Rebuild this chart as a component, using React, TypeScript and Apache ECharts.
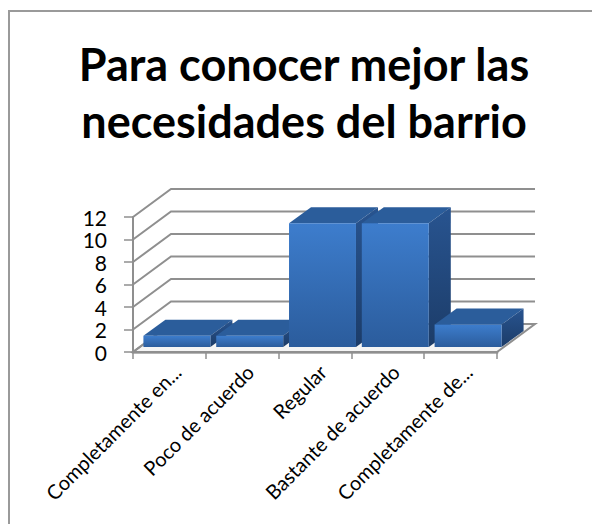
import React, { useEffect, useRef } from "react";
import * as echarts from "echarts";

const title = "Para conocer mejor las\nnecesidades del barrio";
const categories = ["Completamente en...", "Poco de acuerdo", "Regular", "Bastante de acuerdo", "Completamente de..."];
const values = [1, 1, 11, 11, 2];
const yTicks = [0, 2, 4, 6, 8, 10, 12];

const DX = 38;
const DY = -28;
const BAR_DX = 22;
const BAR_DY = -16;
const WALL = "#8f8f8f";

const frontFill = new echarts.graphic.LinearGradient(0, 0, 0, 1, [
  { offset: 0, color: "#3d7dcd" },
  { offset: 1, color: "#2b5c9c" },
]);
const sideFill = new echarts.graphic.LinearGradient(0, 0, 0, 1, [
  { offset: 0, color: "#285490" },
  { offset: 1, color: "#1c3c68" },
]);

export default function App() {
  const ref = useRef<HTMLDivElement>(null);
  useEffect(() => {
    const chart = echarts.init(ref.current!, null, { renderer: "svg" });
    chart.setOption({
      animation: false,
      backgroundColor: "#fff",
      textStyle: { fontFamily: "Lato" },
      title: {
        text: title,
        left: 299,
        top: 30,
        textAlign: "center",
        textStyle: { fontFamily: "Lato", fontSize: 45, fontWeight: "bold", color: "#000", lineHeight: 57 },
      },
      grid: { left: 133, right: 95, top: 217, bottom: 172, containLabel: false },
      xAxis: {
        type: "category",
        data: categories,
        axisLine: { show: true, lineStyle: { color: "#b5b5b5", width: 3 } },
        axisTick: { show: true, alignWithLabel: false, length: 7, lineStyle: { color: WALL, width: 1.5 } },
        axisLabel: {
          interval: 0,
          rotate: 45,
          margin: 24,
          padding: [0, -11, 0, 0],
          fontFamily: "Lato",
          fontSize: 20,
          color: "#000",
          hideOverlap: false,
        },
      },
      yAxis: {
        type: "value",
        min: 0,
        max: 12,
        interval: 2,
        axisLine: { show: true, lineStyle: { color: WALL, width: 2 } },
        axisTick: { show: true, length: 9, lineStyle: { color: WALL, width: 1.5 } },
        axisLabel: { margin: 26, fontFamily: "Lato", fontSize: 21, lineHeight: 20, color: "#000" },
        splitLine: { show: false },
      },
      series: [
        {
          type: "custom",
          silent: true,
          z: 1,
          data: [[0, 0]],
          encode: { x: 0, y: 1 },
          renderItem: (params: any, api: any) => {
            const c = params.coordSys;
            const y0 = api.coord([0, 0])[1];
            const l = c.x;
            const r = c.x + c.width;
            return {
              type: "polygon",
              shape: { points: [[l, y0], [r, y0], [r + DX, y0 + DY], [l + DX, y0 + DY]] },
              style: { fill: "#f4f4f4", stroke: WALL, lineWidth: 2 },
            };
          },
        },
        {
          type: "custom",
          silent: true,
          z: 2,
          data: yTicks.map((v) => [0, v]),
          encode: { x: 0, y: 1 },
          renderItem: (params: any, api: any) => {
            const c = params.coordSys;
            const y = api.coord([0, api.value(1)])[1];
            const l = c.x;
            const r = c.x + c.width;
            return {
              type: "polyline",
              shape: { points: [[l, y], [l + DX, y + DY], [r + DX, y + DY]] },
              style: { fill: "none", stroke: WALL, lineWidth: 2 },
            };
          },
        },
        {
          type: "custom",
          silent: true,
          z: 3,
          data: values.map((v, i) => [i, v]),
          encode: { x: 0, y: 1 },
          renderItem: (_: any, api: any) => {
            const i = api.value(0);
            const v = api.value(1);
            const band = api.size([1, 0])[0];
            const w = band * 0.92;
            const cx = api.coord([i, 0])[0] + 7.5;
            const b = api.coord([i, 0])[1] - 5;
            const t = api.coord([i, v])[1] - 5;
            const l = cx - w / 2;
            const r = cx + w / 2;
            return {
              type: "group",
              children: [
                {
                  type: "polygon",
                  shape: { points: [[l, t], [r, t], [r + BAR_DX, t + BAR_DY], [l + BAR_DX, t + BAR_DY]] },
                  style: { fill: "#2b5d9b" },
                },
                {
                  type: "polygon",
                  shape: { points: [[r, t], [r + BAR_DX, t + BAR_DY], [r + BAR_DX, b + BAR_DY], [r, b]] },
                  style: { fill: sideFill },
                },
                {
                  type: "rect",
                  shape: { x: l, y: t, width: r - l, height: b - t },
                  style: { fill: frontFill },
                },
              ],
            };
          },
        },
      ],
      graphic: [
        {
          type: "polyline",
          silent: true,
          z: 100,
          shape: { points: [[9, 524], [9, 11], [592, 11]] },
          style: { fill: "none", stroke: "#9a9a9a", lineWidth: 2 },
        },
      ],
    });
    return () => chart.dispose();
  }, []);
  return <div ref={ref} style={{ position: "absolute", left: 0, top: 0, width: 592, height: 524 }} />;
}
